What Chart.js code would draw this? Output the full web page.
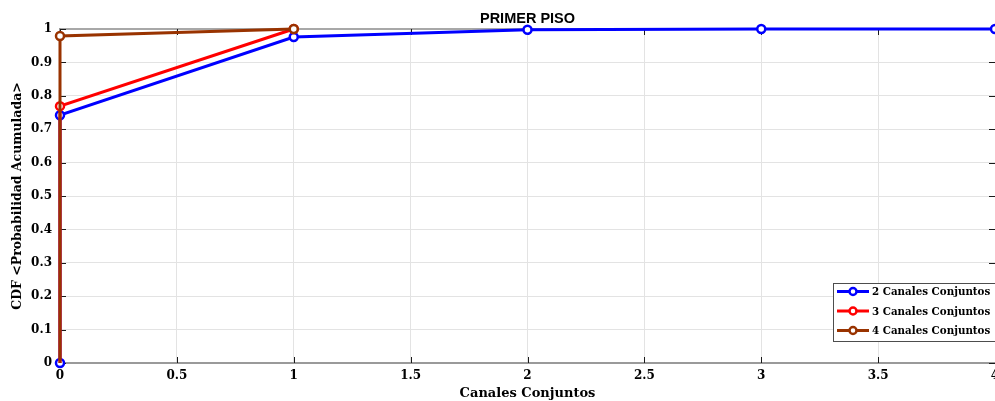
<!DOCTYPE html>
<html>
<head>
<meta charset="utf-8">
<script src="https://cdn.jsdelivr.net/npm/chart.js@4/dist/chart.umd.min.js"></script>
<style>
  html, body { margin: 0; padding: 0; background: #fff; }
  #wrap { width: 995px; height: 401px; position: relative; }
</style>
</head>
<body>
<div id="wrap"><canvas id="c"></canvas></div>
<script>
// Empirical CDF of simultaneous channels, first floor
const seriesNames = ['2 Canales Conjuntos', '3 Canales Conjuntos', '4 Canales Conjuntos'];
const seriesColors = ['#0000ff', '#ff0000', '#993300'];

const x2 = [0, 0, 1, 2, 3, 4];
const y2 = [0, 0.742, 0.976, 0.998, 1, 1];

const x3 = [0, 0, 1];
const y3 = [0, 0.769, 1];

const x4 = [0, 0, 1];
const y4 = [0, 0.979, 1];

const xTicks = [0, 0.5, 1, 1.5, 2, 2.5, 3, 3.5, 4];
const yTicks = [0, 0.1, 0.2, 0.3, 0.4, 0.5, 0.6, 0.7, 0.8, 0.9, 1];

const tickFont = { family: 'DejaVu Serif', weight: 'bold', size: 12 };

function pts(xs, ys) { return xs.map((x, i) => ({ x: x, y: ys[i] })); }
function fmt(v) { return String(+Number(v).toFixed(2)); }

function makeSet(i, xs, ys, firstHidden) {
  return {
    label: seriesNames[i],
    data: pts(xs, ys),
    borderColor: seriesColors[i],
    backgroundColor: '#ffffff',
    borderWidth: 3,
    pointRadius: xs.map((_, k) => (k === 0 && firstHidden) ? 0 : 4),
    pointBorderWidth: 2.5,
    pointBackgroundColor: '#ffffff',
    pointBorderColor: seriesColors[i],
    pointHoverRadius: 4,
    tension: 0,
    clip: false,
    order: 3 - i
  };
}

// Inward tick marks on all four sides
const innerTicks = {
  id: 'innerTicks',
  beforeDatasetsDraw(chart) {
    const { ctx, chartArea: a, scales } = chart;
    ctx.save();
    ctx.strokeStyle = '#1a1a1a';
    ctx.lineWidth = 1;
    const L = 6;
    xTicks.forEach(v => {
      const px = Math.round(scales.x.getPixelForValue(v)) + 0.5;
      ctx.beginPath();
      ctx.moveTo(px, a.bottom); ctx.lineTo(px, a.bottom - L);
      ctx.moveTo(px, a.top); ctx.lineTo(px, a.top + L);
      ctx.stroke();
    });
    yTicks.forEach(v => {
      const py = Math.round(scales.y.getPixelForValue(v)) + 0.5;
      ctx.beginPath();
      ctx.moveTo(a.left, py); ctx.lineTo(a.left + L, py);
      ctx.moveTo(a.right, py); ctx.lineTo(a.right - L, py);
      ctx.stroke();
    });
    ctx.restore();
  }
};

// Boxed legend with line + open-circle sample, lower right of the axes
const boxLegend = {
  id: 'boxLegend',
  afterDraw(chart) {
    const { ctx, chartArea: a } = chart;
    const sets = chart.data.datasets;
    const left = a.right - 162, top = a.bottom - 80, w = 170, h = 58;
    ctx.save();
    ctx.fillStyle = '#ffffff';
    ctx.fillRect(left, top, w, h);
    ctx.strokeStyle = '#4d4d4d';
    ctx.lineWidth = 1;
    ctx.strokeRect(left + 0.5, top + 0.5, w, h);
    ctx.font = 'bold 10.3px "DejaVu Serif"';
    ctx.textBaseline = 'middle';
    ctx.textAlign = 'left';
    sets.forEach((ds, i) => {
      const cy = top + 8.5 + i * 19.5;
      ctx.strokeStyle = ds.borderColor;
      ctx.lineWidth = 3;
      ctx.beginPath();
      ctx.moveTo(left + 4, cy); ctx.lineTo(left + 36, cy);
      ctx.stroke();
      ctx.fillStyle = '#ffffff';
      ctx.lineWidth = 2.5;
      ctx.beginPath();
      ctx.arc(left + 20, cy, 3.5, 0, Math.PI * 2);
      ctx.fill(); ctx.stroke();
      ctx.fillStyle = '#000000';
      ctx.fillText(ds.label, left + 39, cy + 1);
    });
    ctx.restore();
  }
};

new Chart(document.getElementById('c'), {
  type: 'line',
  data: {
    datasets: [
      makeSet(0, x2, y2, false),
      makeSet(1, x3, y3, true),
      makeSet(2, x4, y4, true)
    ]
  },
  options: {
    responsive: true,
    maintainAspectRatio: false,
    animation: false,
    layout: { autoPadding: false, padding: 0 },
    plugins: {
      legend: { display: false },
      tooltip: { enabled: false },
      title: {
        display: true,
        text: 'PRIMER PISO',
        fullSize: false,
        color: '#000',
        font: { family: 'Liberation Sans', weight: 'bold', size: 14.5 },
        padding: { top: 10.3, bottom: 1.3 }
      }
    },
    scales: {
      x: {
        type: 'linear',
        min: 0, max: 4,
        afterBuildTicks(s) { s.ticks = xTicks.map(v => ({ value: v })); },
        afterFit(s) { s.height = 38; s.paddingRight = 0; s.paddingLeft = 0; },
        ticks: { color: '#000', font: tickFont, padding: 6, maxRotation: 0, autoSkip: false, callback: fmt },
        grid: { drawTicks: false, color: '#e3e3e3', lineWidth: 1 },
        border: { display: true, color: '#9a9a9a', width: 2 },
        title: {
          display: true, text: 'Canales Conjuntos', color: '#000',
          font: { family: 'DejaVu Serif', weight: 'bold', size: 13 },
          padding: { top: 0, bottom: 0 }
        }
      },
      y: {
        type: 'linear',
        min: 0, max: 1,
        afterBuildTicks(s) { s.ticks = yTicks.map(v => ({ value: v })); },
        afterFit(s) { s.width = 60; s.paddingTop = 0; s.paddingBottom = 0; },
        ticks: { color: '#000', font: tickFont, padding: 8, callback: fmt },
        grid: {
          drawTicks: false,
          color: ctx => (ctx.tick && ctx.tick.value === 1) ? '#a8a8a8' : '#e3e3e3',
          lineWidth: ctx => (ctx.tick && ctx.tick.value === 1) ? 2 : 1
        },
        border: { display: true, color: '#9a9a9a', width: 2 },
        title: {
          display: true, text: 'CDF <Probabilidad Acumulada>', color: '#000',
          font: { family: 'DejaVu Serif', weight: 'bold', size: 12.5 },
          padding: { top: 10, bottom: 0 }
        }
      }
    }
  },
  plugins: [innerTicks, boxLegend]
});
</script>
</body>
</html>
